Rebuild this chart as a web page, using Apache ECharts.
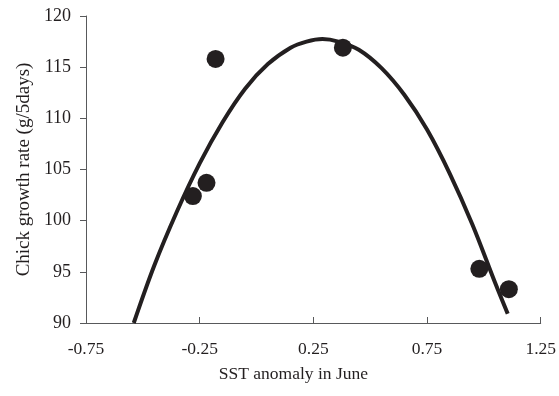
<!DOCTYPE html>
<html>
<head>
<meta charset="utf-8">
<script src="https://cdn.jsdelivr.net/npm/echarts@6/dist/echarts.min.js"></script>
<style>
  html, body {margin: 0; padding: 0; background: #fff;}
  #chart {width: 559px; height: 396px;}
</style>
</head>
<body>
<div id="chart"></div>
<script>
// observed points
const sstX = [-0.28, -0.22, -0.18, 0.38, 0.98, 1.11];
const growthY = [102.4, 103.7, 115.8, 116.9, 95.3, 93.3];

// fitted curve
const curveX = [-0.54, -0.45, -0.35, -0.25, -0.15, -0.05, 0.05, 0.15, 0.22, 0.29, 0.36,
  0.45, 0.55, 0.65, 0.75, 0.85, 0.95, 1.05, 1.105];
const curveY = [90.0, 95.6, 100.9, 105.6, 109.6, 112.9, 115.3, 116.9, 117.5, 117.75, 117.5,
  116.7, 114.9, 112.3, 108.9, 104.6, 99.6, 93.9, 90.9];

const xTicks = [-0.75, -0.25, 0.25, 0.75, 1.25];
const yTicks = [90, 95, 100, 105, 110, 115, 120];

const ink = '#231f20';
const axisColor = '#58595b';
const font = 'Liberation Serif';

const myChart = echarts.init(document.getElementById('chart'));
myChart.setOption({
  animation: false,
  grid: {left: 86, right: 18, top: 16, bottom: 73},
  xAxis: {
    type: 'value',
    min: -0.75,
    max: 1.25,
    name: 'SST anomaly in June',
    nameLocation: 'middle',
    nameGap: 42,
    nameTextStyle: {color: ink, fontFamily: font, fontSize: 17.5, padding: [0, 40, 0, 0]},
    axisLine: {show: true, onZero: false, lineStyle: {color: axisColor, width: 1}},
    axisTick: {show: true, inside: true, length: 6, customValues: xTicks, lineStyle: {color: axisColor}},
    axisLabel: {
      customValues: xTicks,
      margin: 17,
      color: ink, fontFamily: font, fontSize: 17.5,
      formatter: v => v.toFixed(2)
    },
    splitLine: {show: false}
  },
  yAxis: {
    type: 'value',
    min: 90,
    max: 120,
    interval: 5,
    name: 'Chick growth rate (g/5days)',
    nameLocation: 'middle',
    nameRotate: 90,
    nameGap: 52,
    nameTextStyle: {color: ink, fontFamily: font, fontSize: 19},
    axisLine: {show: true, onZero: false, lineStyle: {color: axisColor, width: 1}},
    axisTick: {show: true, inside: false, length: 6, customValues: yTicks, lineStyle: {color: axisColor}},
    axisLabel: {
      customValues: yTicks,
      margin: 15,
      color: ink, fontFamily: font, fontSize: 18
    },
    splitLine: {show: false}
  },
  series: [{
    type: 'line',
    data: curveX.map((x, i) => [x, curveY[i]]),
    smooth: 0.35,
    showSymbol: false,
    lineStyle: {color: ink, width: 4},
    z: 2
  }, {
    type: 'scatter',
    data: sstX.map((x, i) => [x, growthY[i]]),
    symbol: 'circle',
    symbolSize: 18,
    itemStyle: {color: ink, opacity: 1},
    z: 3
  }]
});
</script>
</body>
</html>
